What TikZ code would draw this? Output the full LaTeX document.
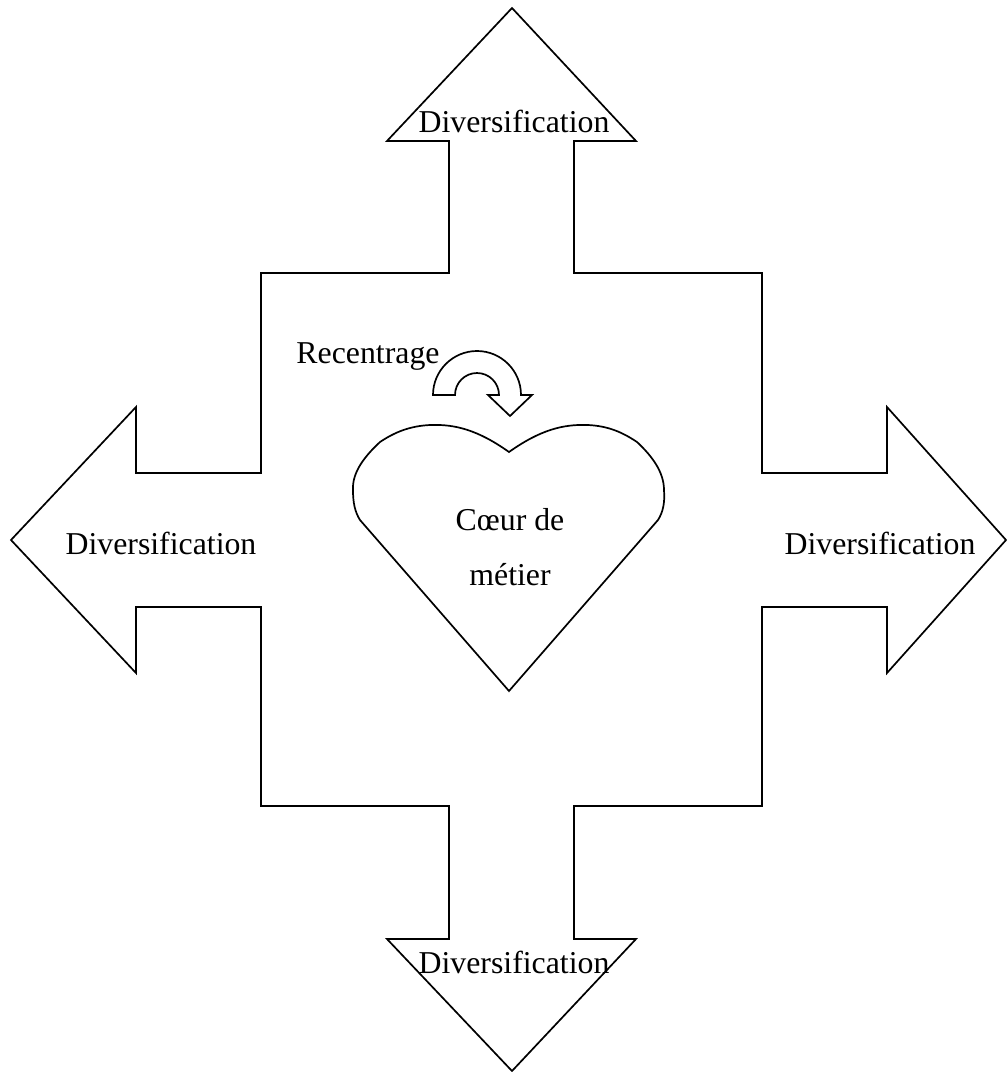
\documentclass[tikz,border=0pt]{standalone}
\usepackage{fontspec}
\setmainfont{Liberation Serif}
\usetikzlibrary{positioning}

\tikzset{
    outline/.style={draw, line width=0.85pt, line join=miter},
    label/.style={anchor=base, inner sep=0pt, font=\fontsize{15.9}{19}\selectfont}
}

\begin{document}
\begin{tikzpicture}[x=0.5pt, y=-0.5pt]
        \useasboundingbox (0,0) rectangle (1007,1072);

        % big cross of four arrows
        \draw[outline] (512,8) -- (636,141) -- (574,141) -- (574,273) -- (762,273) -- (762,473) -- (887,473) -- (887,407)
            -- (1006,540) -- (887,673) -- (887,607) -- (762,607) -- (762,806) -- (574,806) -- (574,939) -- (636,939)
            -- (512,1071) -- (387,939) -- (449,939) -- (449,806) -- (261,806) -- (261,607) -- (136,607) -- (136,673)
            -- (11,540) -- (136,407) -- (136,473) -- (261,473) -- (261,273) -- (449,273) -- (449,141) -- (387,141) -- cycle;

        % heart
        \draw[outline] (509,452) .. controls (478,430) and (455,424) .. (430,425)
            .. controls (410,426) and (395,432) .. (380,442)
            .. controls (365,456) and (352,472) .. (353,490)
            .. controls (353,503) and (355,512) .. (360,520)
            -- (509,691) -- (658,520)
            .. controls (663,512) and (665,503) .. (664,490)
            .. controls (664,472) and (652,456) .. (637,442)
            .. controls (622,432) and (608,426) .. (588,425)
            .. controls (563,424) and (540,430) .. (509,452) -- cycle;

        % small curved arrow
        \draw[outline] (433,395) arc (180:360:44) -- (532,395) -- (510,416) -- (488,395) -- (499,395)
            arc (360:180:22) -- cycle;

        \node[label] (top) at (514,132) {Diversification};
        \node[label] (bottom) at (514,973) {Diversification};
        \node[label] (left) at (161,554) {Diversification};
        \node[label] (right) at (880,554) {Diversification};
        \node[label] (recentrage) at (368,363) {Recentrage};
        \node[label] (coeur) at (510,530) {Cœur de};
        \node[label] (metier) at (510,585) {métier};
    \end{tikzpicture}
\end{document}
